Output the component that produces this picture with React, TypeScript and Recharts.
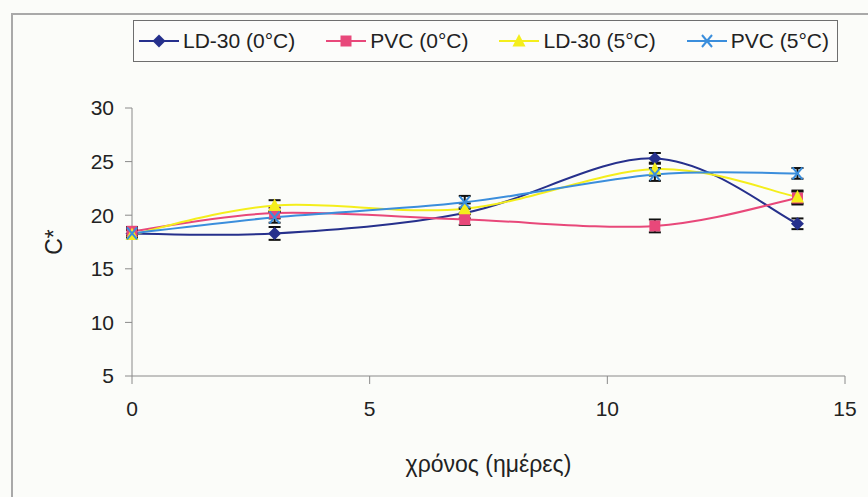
import { LineChart, Line, XAxis, YAxis, ErrorBar, Label } from "recharts";

const days = [0, 3, 7, 11, 14];

const ld30Cold = [18.3, 18.3, 20.2, 25.3, 19.2];
const ld30ColdErr = [0.4, 0.6, 0.5, 0.5, 0.5];
const pvcCold = [18.5, 20.2, 19.6, 19.0, 21.6];
const pvcColdErr = [0.4, 0.5, 0.5, 0.6, 0.6];
const ld30Warm = [18.2, 20.9, 20.6, 24.3, 21.7];
const ld30WarmErr = [0.4, 0.5, 0.5, 0.6, 0.6];
const pvcWarm = [18.3, 19.8, 21.2, 23.8, 23.9];
const pvcWarmErr = [0.4, 0.5, 0.6, 0.6, 0.5];

const yTicks = [5, 10, 15, 20, 25, 30];
const xTicks = [0, 5, 10, 15];

const FONT = "'Liberation Sans', Arial, sans-serif";

type Shape = "diamond" | "square" | "triangle" | "cross";

const series: { key: string; err: string; name: string; color: string; shape: Shape }[] = [
  { key: "ld30Cold", err: "ld30ColdErr", name: "LD-30 (0°C)", color: "#26308c", shape: "diamond" },
  { key: "pvcCold", err: "pvcColdErr", name: "PVC (0°C)", color: "#e8487a", shape: "square" },
  { key: "ld30Warm", err: "ld30WarmErr", name: "LD-30 (5°C)", color: "#f4ee1c", shape: "triangle" },
  { key: "pvcWarm", err: "pvcWarmErr", name: "PVC (5°C)", color: "#3b8edc", shape: "cross" },
];

const data = days.map((d, i) => ({
  day: d,
  ld30Cold: ld30Cold[i],
  ld30ColdErr: ld30ColdErr[i],
  pvcCold: pvcCold[i],
  pvcColdErr: pvcColdErr[i],
  ld30Warm: ld30Warm[i],
  ld30WarmErr: ld30WarmErr[i],
  pvcWarm: pvcWarm[i],
  pvcWarmErr: pvcWarmErr[i],
}));

// Excel-style smoothed line (Catmull-Rom through the points)
function smoothCurve(context: any) {
  let pts: [number, number][] = [];
  return {
    areaStart() {},
    areaEnd() {},
    lineStart() {
      pts = [];
    },
    lineEnd() {
      if (!pts.length) return;
      context.moveTo(pts[0][0], pts[0][1]);
      for (let i = 0; i < pts.length - 1; i++) {
        const p0 = pts[i - 1] || pts[i];
        const p1 = pts[i];
        const p2 = pts[i + 1];
        const p3 = pts[i + 2] || p2;
        context.bezierCurveTo(
          p1[0] + (p2[0] - p0[0]) / 6,
          p1[1] + (p2[1] - p0[1]) / 6,
          p2[0] - (p3[0] - p1[0]) / 6,
          p2[1] - (p3[1] - p1[1]) / 6,
          p2[0],
          p2[1]
        );
      }
    },
    point(x: number, y: number) {
      pts.push([+x, +y]);
    },
  };
}

function Marker({ shape, color, cx, cy }: { shape: Shape; color: string; cx: number; cy: number }) {
  if (shape === "diamond")
    return <polygon points={`${cx},${cy - 6.5} ${cx + 6.5},${cy} ${cx},${cy + 6.5} ${cx - 6.5},${cy}`} fill={color} />;
  if (shape === "square") return <rect x={cx - 5.5} y={cy - 5.5} width={11} height={11} fill={color} />;
  if (shape === "triangle")
    return <polygon points={`${cx},${cy - 7} ${cx + 6.5},${cy + 5.5} ${cx - 6.5},${cy + 5.5}`} fill={color} />;
  return (
    <g stroke={color} strokeWidth={2}>
      <line x1={cx - 5} y1={cy - 6} x2={cx + 5} y2={cy + 6} />
      <line x1={cx + 5} y1={cy - 6} x2={cx - 5} y2={cy + 6} />
    </g>
  );
}

function makeDot(shape: Shape, color: string) {
  return (props: any) => {
    const { cx, cy, index } = props;
    if (cx == null || cy == null) return <g key={index} />;
    return (
      <g key={index}>
        <Marker shape={shape} color={color} cx={cx} cy={cy} />
      </g>
    );
  };
}

function LegendBox() {
  return (
    <div
      style={{
        position: "absolute",
        left: 133,
        top: 20,
        width: 705,
        height: 42,
        border: "1.5px solid #6e6e6e",
        display: "flex",
        alignItems: "center",
        justifyContent: "space-between",
        padding: "0 8px 0 5px",
        boxSizing: "border-box",
        fontFamily: FONT,
        fontSize: 21,
        color: "#222",
        background: "#fcfcfa",
      }}
    >
      {series.map((s) => (
        <div key={s.key} style={{ display: "flex", alignItems: "center" }}>
          <svg width={40} height={16} style={{ marginRight: 4 }}>
            <line x1={0} y1={8} x2={40} y2={8} stroke={s.color} strokeWidth={2} />
            <Marker shape={s.shape} color={s.color} cx={20} cy={8} />
          </svg>
          <span>{s.name}</span>
        </div>
      ))}
    </div>
  );
}

export default function App() {
  return (
    <div
      style={{
        position: "absolute",
        left: 0,
        top: 0,
        width: 868,
        height: 497,
        overflow: "hidden",
        background: "#fbfcf9",
      }}
    >
      <div
        style={{
          position: "absolute",
          left: 11,
          top: 13,
          width: 900,
          height: 600,
          border: "2px solid #a9a9a9",
        }}
      />
      <div style={{ position: "absolute", left: 0, top: 0 }}>
        <LineChart
          width={868}
          height={497}
          data={data}
          margin={{ top: 108, right: 23, bottom: 61, left: 72 }}
        >
          <XAxis
            type="number"
            dataKey="day"
            domain={[0, 15]}
            ticks={xTicks}
            height={60}
            stroke="#8a8a8a"
            tickSize={8}
            tickMargin={17}
            tick={{ fill: "#222", fontSize: 21, fontFamily: FONT }}
          >
            <Label
              value="χρόνος (ημέρες)"
              position="insideBottom"
              offset={-36}
              style={{ fill: "#222", fontSize: 23, fontFamily: FONT }}
            />
          </XAxis>
          <YAxis
            type="number"
            domain={[5, 30]}
            ticks={yTicks}
            width={60}
            stroke="#8a8a8a"
            tickSize={7}
            tickMargin={11}
            tick={{ fill: "#222", fontSize: 21, fontFamily: FONT }}
          >
            <Label
              value="C*"
              angle={-90}
              position="insideLeft"
              offset={-18}
              style={{ fill: "#222", fontSize: 23, fontFamily: FONT, textAnchor: "middle" }}
            />
          </YAxis>
          {series.map((s) => (
            <Line
              key={s.key}
              dataKey={s.key}
              name={s.name}
              type={smoothCurve as any}
              stroke={s.color}
              strokeWidth={2}
              dot={makeDot(s.shape, s.color)}
              activeDot={false}
              isAnimationActive={false}
            >
              <ErrorBar dataKey={s.err} direction="y" width={6} stroke="#111" strokeWidth={2} />
            </Line>
          ))}
        </LineChart>
      </div>
      <LegendBox />
    </div>
  );
}
